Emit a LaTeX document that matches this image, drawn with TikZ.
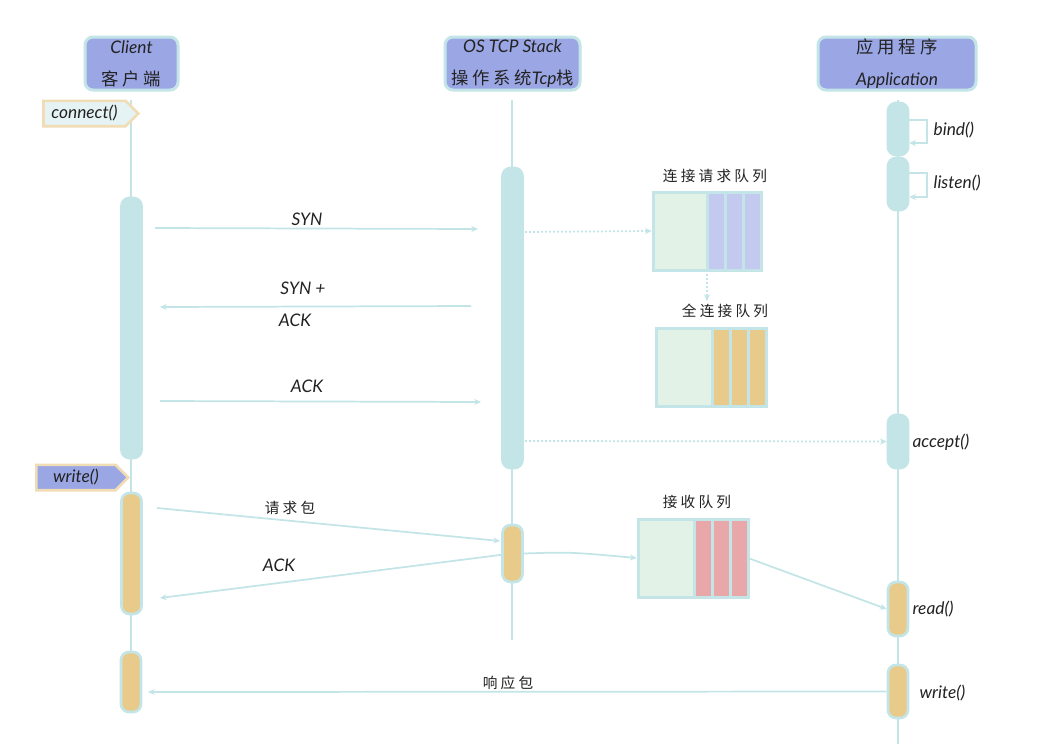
\documentclass[tikz,border=0pt]{standalone}
\usepackage{fontspec}
\setmainfont{Lato}
\newfontfamily\cjk[LetterSpace=22]{Noto Sans CJK SC}
\usetikzlibrary{arrows.meta,shapes.symbols}
\definecolor{cyanl}{HTML}{C3E5E7}
\definecolor{hdrc}{HTML}{9BA6E5}
\definecolor{tanc}{HTML}{E8CB8B}
\definecolor{greenl}{HTML}{E3F2E7}
\definecolor{purp}{HTML}{C4C9F0}
\definecolor{redl}{HTML}{E8A7A8}
\definecolor{tagb}{HTML}{F0DDB5}
\definecolor{tagf}{HTML}{E6F3F4}
\definecolor{ink}{HTML}{222222}
\begin{document}
\begin{tikzpicture}[x=0.75pt,y=-0.75pt,
  life/.style={draw=cyanl, line width=1.4pt},
  hdr/.style={draw=cyanl, fill=hdrc, line width=2.25pt, rounded corners=6pt,
    minimum height=39.75pt, align=center, inner sep=0pt, text=ink,
    font=\fontsize{13}{24}\selectfont\itshape},
  actc/.style={draw=cyanl, fill=cyanl, line width=2pt, rounded corners=6pt,
    minimum width=15pt, inner sep=0pt},
  actt/.style={actc, fill=tanc},
  msg/.style={draw=cyanl, line width=1.3pt, -{Stealth[length=5pt,width=4.5pt]}},
  dmsg/.style={msg, dash pattern=on 1.5pt off 1.5pt},
  lbl/.style={font=\fontsize{13}{15}\selectfont\itshape, text=ink, inner sep=1pt},
  clbl/.style={font=\fontsize{11}{13}\selectfont\cjk, text=ink, inner sep=1pt},
  tag/.style={signal, signal to=east, draw=tagb, line width=2pt,
    minimum height=19pt, inner sep=0pt, text=ink,
    font=\fontsize{13}{15}\selectfont\itshape},
  qbox/.style={draw=cyanl, line width=2.25pt, minimum height=58.5pt, inner sep=0pt, outer sep=0pt},
  qleft/.style={qbox, fill=greenl, minimum width=42pt},
  slot/.style={qbox, minimum width=13.5pt, anchor=west}
]
\useasboundingbox[fill=white] (0,0) rectangle (1054,744);

% headers
\node[hdr, minimum width=69.75pt] (hc) at (131.5,63.5) {Client\\{\cjk\upshape 客户端}};
\node[hdr, minimum width=101.25pt] (ho) at (512.5,63.5) {OS TCP Stack\\{\cjk\upshape 操作系统}Tcp{\cjk\upshape 栈}};
\node[hdr, minimum width=118.5pt] (ha) at (897,63.5) {{\cjk\upshape 应用程序}\\Application};

% lifelines
\coordinate (lc0) at (131,100); \coordinate (lc1) at (131,712);
\coordinate (lo0) at (512,100); \coordinate (lo1) at (512,640);
\coordinate (la0) at (898,100); \coordinate (la1) at (898,744);
\draw[life] (lc0) -- (lc1);
\draw[life] (lo0) -- (lo1);
\draw[life] (la0) -- (la1);

% tags
\node[tag, fill=tagf, minimum width=71pt] (tconn) at (84.5,113.5) {connect()};
\node[tag, fill=hdrc, minimum width=69pt] (twrite) at (76,477.5) {write()};

% activation bars
\node[actc, minimum height=195pt] (cb1) at (131.5,328) {};
\node[actt, minimum height=90.75pt] (cb2) at (131.5,553.5) {};
\node[actt, minimum height=45pt] (cb3) at (131,682) {};
\node[actc, minimum height=225pt] (ob1) at (512.5,318) {};
\node[actt, minimum height=42.75pt] (ob2) at (512.5,553.5) {};
\node[actc, minimum height=39pt] (ab1) at (898,129) {};
\node[actc, minimum height=39pt] (ab2) at (898,184) {};
\node[actc, minimum height=39.75pt] (ab3) at (898,441.5) {};
\node[actt, minimum height=40.5pt] (ab4) at (898,609) {};
\node[actt, minimum height=39.75pt] (ab5) at (898,691.5) {};

% self loops
\draw[msg] ([yshift=6.75pt]ab1.east) -- ++(18,0) -- ++(0,23) -- ++(-18,0);
\draw[msg] ([yshift=8.25pt]ab2.east) -- ++(18,0) -- ++(0,24) -- ++(-18,0);

% method labels
\node[lbl, anchor=west] (lbind) at (932,130) {bind()};
\node[lbl, anchor=west] (llisten) at (932,183) {listen()};
\node[lbl, anchor=west] (laccept) at (911,442) {accept()};
\node[lbl, anchor=west] (lread) at (911,609) {read()};
\node[lbl, anchor=west] (lwrite) at (918,693) {write()};

% queues
\node[clbl] (t1) at (715,176) {连接请求队列};
\node[qleft, minimum width=40.5pt] (q1) at (680,231) {};
\node[slot, fill=purp] (s1) at (q1.east) {};
\node[slot, fill=purp] (s2) at (s1.east) {};
\node[slot, fill=purp] (s3) at (s2.east) {};

\node[clbl] (t2) at (725,311) {全连接队列};
\node[qleft] (q2) at (684,367) {};
\node[slot, fill=tanc] (s4) at (q2.east) {};
\node[slot, fill=tanc] (s5) at (s4.east) {};
\node[slot, fill=tanc] (s6) at (s5.east) {};

\node[clbl] (t3) at (697,502) {接收队列};
\node[qleft] (q3) at (666,558) {};
\node[slot, fill=redl] (s7) at (q3.east) {};
\node[slot, fill=redl] (s8) at (s7.east) {};
\node[slot, fill=redl] (s9) at (s8.east) {};

% handshake messages
\coordinate (syn0) at (155,228); \coordinate (syn1) at (478,229);
\draw[msg] (syn0) -- (syn1);
\node[lbl] (lsyn) at (307,219) {SYN};
\coordinate (sa0) at (471,306); \coordinate (sa1) at (160,307);
\draw[msg] (sa0) -- (sa1);
\node[lbl] (lsa1) at (303,288) {SYN +};
\node[lbl] (lsa2) at (295,320) {ACK};
\coordinate (ack0) at (160,401); \coordinate (ack1) at (481,402);
\draw[msg] (ack0) -- (ack1);
\node[lbl] (lack) at (307,386) {ACK};

% dotted flows
\coordinate (d1) at (525,232);
\draw[dmsg] (d1) -- ([xshift=-1pt]q1.west);
\coordinate (d2) at (707,301);
\draw[dmsg] (q1.south east) -- (d2);
\coordinate (d3) at (525,441);
\draw[dmsg] (d3) -- (ab3.west);

% data messages
\coordinate (rq0) at (157,508); \coordinate (rq1) at (500,541);
\draw[msg] (rq0) -- (rq1);
\node[clbl] (lrq) at (290,508) {请求包};
\coordinate (ak1) at (160,598);
\draw[msg] ([yshift=-1pt]ob2.west) -- (ak1);
\node[lbl] (lak) at (279,565) {ACK};
\draw[msg] (ob2.east) .. controls (570,552) .. ([xshift=-1pt]q3.west);
\draw[msg] (s9.east) -- (ab4.west);
\coordinate (rs1) at (148,692);
\draw[msg] (ab5.west) -- (rs1);
\node[clbl] (lrs) at (508,683) {响应包};
\end{tikzpicture}
\end{document}
